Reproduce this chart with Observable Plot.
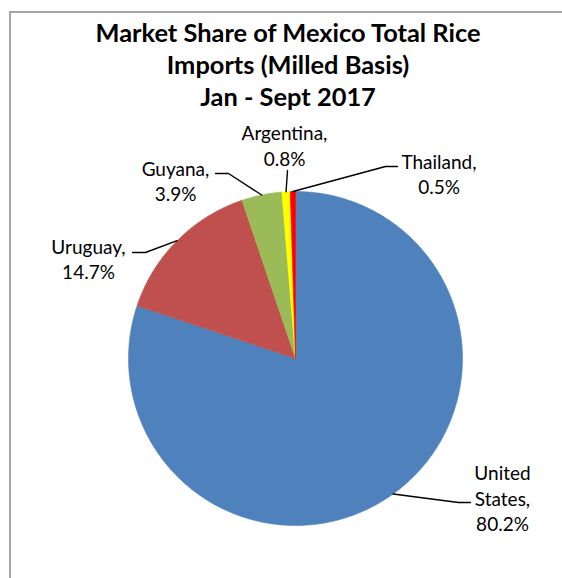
<!DOCTYPE html>
<html>
<head>
<meta charset="utf-8">
<script src="https://cdn.jsdelivr.net/npm/d3@7"></script>
<script src="https://cdn.jsdelivr.net/npm/@observablehq/plot@0.6"></script>
<style>
  html, body { margin: 0; padding: 0; background: #fff; }
  #wrap { position: relative; width: 562px; height: 578px; overflow: hidden; }
  #frame { position: absolute; left: 9px; top: 11px; width: 600px; height: 600px;
           border-left: 2px solid #a6a6a6; border-top: 2px solid #a6a6a6; box-sizing: border-box; }
  #title { position: absolute; left: 10px; top: 0; width: 556px; height: 112px;
           padding-top: 16px; box-sizing: border-box; text-align: center;
           font-family: Lato, sans-serif; font-weight: bold; font-size: 25.4px; line-height: 32px; color: #000; }
  #chart { position: absolute; left: 0; top: 112px; }
</style>
</head>
<body>
<div id="wrap">
  <div id="frame"></div>
  <div id="title">Market Share of Mexico Total Rice<br>Imports (Milled Basis)<br>Jan - Sept 2017</div>
  <div id="chart"></div>
</div>
<script>
// ---- data ----
const names  = ["United States", "Uruguay", "Guyana", "Argentina", "Thailand"];
const shares = [80.2, 14.7, 3.9, 0.8, 0.5];
const labelNames = ["United\nStates,", "Uruguay,", "Guyana,", "Argentina,", "Thailand,"];
const colors = ["#4F81BD", "#C0504D", "#9BBB59", "#FFFF00", "#FF0000"];

// ---- layout (pixel offsets from pie centre, y down) ----
const R = 167;                  // pie radius in px
const CX = 295, CY = 358 - 112; // pie centre inside the svg
const labelPos = [[207, 139], [-207, -100], [-120, -178], [-11, -213.5], [143.5, -185]];
const leaderBend = [[[163, 144], [175, 144]], [[-150, -106], [-163, -106]], [[-67, -185], [-80, -185]], [[-8, -188], [-8, -188]], [[90, -192], [102, -192]]];

// ---- derived geometry ----
const total = d3.sum(shares);
let acc = 0;
const slices = names.map((n, i) => {
  const a0 = acc / total * 2 * Math.PI;
  acc += shares[i];
  const a1 = acc / total * 2 * Math.PI;
  return {name: n, a0, a1, mid: (a0 + a1) / 2};
});
const slicePts = [];
for (const s of slices) {
  slicePts.push({name: s.name, x: 0, y: 0});
  const steps = Math.max(2, Math.ceil((s.a1 - s.a0) / (Math.PI / 360)));
  for (let k = 0; k <= steps; k++) {
    const t = s.a0 + (s.a1 - s.a0) * k / steps;
    slicePts.push({name: s.name, x: Math.sin(t), y: Math.cos(t)});
  }
  slicePts.push({name: s.name, x: 0, y: 0});
}
const leaderPts = [];
slices.forEach((s, i) => {
  leaderPts.push({name: s.name, x: Math.sin(s.mid), y: Math.cos(s.mid)});
  for (const [dx, dy] of leaderBend[i]) leaderPts.push({name: s.name, x: dx / R, y: -dy / R});
});
const labels = slices.map((s, i) => ({
  name: s.name,
  text: labelNames[i] + "\n" + shares[i].toFixed(1) + "%",
  x: labelPos[i][0] / R,
  y: -labelPos[i][1] / R
}));

const chart = Plot.plot({
  width: 562,
  height: 466,
  margin: 0,
  x: {domain: [-1, 1], range: [CX - R, CX + R], axis: null},
  y: {domain: [-1, 1], range: [CY + R, CY - R], axis: null},
  color: {domain: names, range: colors},
  style: {background: "transparent", overflow: "visible"},
  marks: [
    Plot.line(slicePts, {x: "x", y: "y", z: "name", fill: "name", stroke: "name", strokeWidth: 0.6, curve: "linear"}),
    Plot.line(leaderPts, {x: "x", y: "y", z: "name", stroke: "black", strokeWidth: 1.4}),
    Plot.text(labels, {x: "x", y: "y", text: "text", textAnchor: "middle", lineAnchor: "middle",
      lineHeight: 1.34, fontSize: 19, fontFamily: "Lato, sans-serif", fill: "#000"})
  ]
});
document.getElementById("chart").appendChild(chart);
</script>
</body>
</html>
